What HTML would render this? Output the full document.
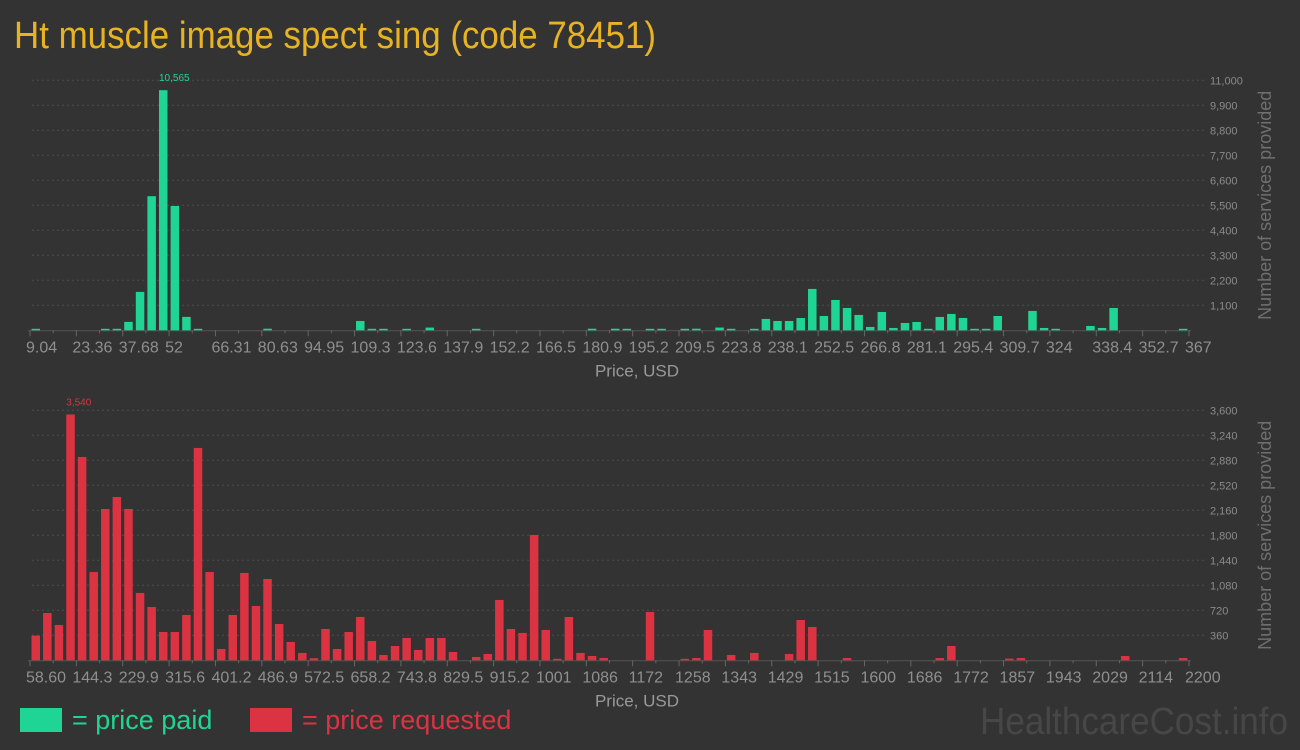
<!DOCTYPE html>
<html><head><meta charset="utf-8"><style>
html,body{margin:0;padding:0;background:#333333;}
svg{display:block;font-family:"Liberation Sans Narrow","Liberation Sans",sans-serif;}
</style></head><body>
<svg id="chart" width="1300" height="750" viewBox="0 0 1300 750" xmlns="http://www.w3.org/2000/svg">
<rect width="1300" height="750" fill="#333333"/>
<text x="14" y="48" font-size="38" fill="#e8b323" textLength="642" lengthAdjust="spacingAndGlyphs">Ht muscle image spect sing (code 78451)</text>
<g id="top"></g>
<g id="bot"></g>
<rect x="20" y="708" width="42" height="24" fill="#1fd595"/>
<text x="72" y="729" font-size="27" fill="#1fd595">= price paid</text>
<rect x="250" y="708" width="42" height="24" fill="#dc3342"/>
<text x="302" y="729" font-size="27" fill="#dc3342">= price requested</text>
<text x="1288" y="734" font-size="38" fill="#474747" text-anchor="end" textLength="308" lengthAdjust="spacingAndGlyphs">HealthcareCost.info</text>
</svg>
<script>
const topCounts = [50,0,0,0,0,0,40,40,370,1690,
5900,10565,5470,590,40,0,0,0,0,0,
70,0,0,0,0,0,0,0,410,40,
40,0,40,0,120,0,0,0,40,0,
0,0,0,0,0,0,0,0,70,0,
70,40,0,40,40,0,40,70,0,120,
40,0,40,500,410,410,540,1820,630,1335,
983,675,147,806,103,323,366,40,587,719,
543,40,60,630,0,0,851,103,40,0,
0,190,103,983,0,0,0,0,0,40];
const botCounts = [356,681,509,3540,2928,1272,2179,2352,2179,970,
768,408,408,653,3058,1272,163,653,1258,782,
1171,523,264,106,30,451,163,408,624,278,
77,206,321,149,321,321,120,0,48,91,
869,451,394,1805,437,15,624,106,62,33,
0,0,0,696,0,0,15,33,437,0,
77,0,106,0,0,91,580,480,0,0,
33,0,0,0,0,0,0,0,33,206,
0,0,0,0,25,33,0,0,0,0,
0,0,0,0,62,0,0,0,0,33];
const topXLabels = ["9.04","23.36","37.68","52","66.31","80.63","94.95","109.3","123.6","137.9","152.2","166.5","180.9","195.2","209.5","223.8","238.1","252.5","266.8","281.1","295.4","309.7","324","338.4","352.7","367"];
const botXLabels = ["58.60","144.3","229.9","315.6","401.2","486.9","572.5","658.2","743.8","829.5","915.2","1001","1086","1172","1258","1343","1429","1515","1600","1686","1772","1857","1943","2029","2114","2200"];
const topYTicks = [1100,2200,3300,4400,5500,6600,7700,8800,9900,11000];
const botYTicks = [360,720,1080,1440,1800,2160,2520,2880,3240,3600];

const NS="http://www.w3.org/2000/svg";
function mk(parent,tag,attrs){const e=document.createElementNS(NS,tag);for(const k in attrs)e.setAttribute(k,attrs[k]);parent.appendChild(e);return e;}

function drawChart(gid,counts,xLabels,yTicks,yMax,base,color,peakLabel){
  const g=document.getElementById(gid);
  const x0=30,x1=1189,top=base-250;
  const y=v=>base-v/yMax*250;
  const pitch=(x1-x0)/counts.length;
  const xs=i=>x0+i*pitch;
  yTicks.forEach(t=>{
    const l=mk(g,'line',{x1:32,x2:1205,y1:y(t),y2:y(t),stroke:'#4c4c4c','stroke-dasharray':'2,3','stroke-width':1});
    
    
    const tx=mk(g,'text',{x:1210,y:y(t)+4,'font-size':11,fill:'#8a8a8a'});
    tx.textContent=t.toLocaleString('en-US');
    
    
  });
  const ax=mk(g,'line',{x1:x0-2,x2:x1+2,y1:base+0.5,y2:base+0.5,stroke:'#555','stroke-width':1});
  
  
  const nInt=xLabels.length-1, step=(x1-x0)/nInt;
  for(let k=0;k<=nInt*2;k++){
    const xx=x0+k*step/2, major=k%2===0;
    const tk=mk(g,'line',{x1:xx,x2:xx,y1:base,y2:base+(major?6:3),stroke:'#666','stroke-width':1});
    
    
  }
  xLabels.forEach((lab,i)=>{
    const t=mk(g,'text',{x:x0+i*step-4,y:base+22,'font-size':16,fill:'#8f8f8f'});
    t.textContent=lab;
    
    
  });
  let pk=0;
  counts.forEach((v,i)=>{
    if(v>counts[pk])pk=i;
    if(v<=0)return;
    const h=Math.max(1.5,base-y(v));
    const r=mk(g,'rect',{x:xs(i)+1.5,y:base-h,width:8.5,height:h,fill:color});
    
    
  });
  const pl=mk(g,'text',{x:xs(pk)+1.5,y:y(counts[pk])-9,'font-size':10,fill:color});
  pl.textContent=counts[pk].toLocaleString('en-US');
  
  
  const xt=mk(g,'text',{x:637,y:base+46,'font-size':17,fill:'#999','text-anchor':'middle'});
  xt.textContent='Price, USD';
  
  
  const cy=top+125;
  const yt=mk(g,'text',{x:1271,y:cy,'font-size':18,fill:'#6f6f6f','text-anchor':'middle',transform:'rotate(-90 1271 '+cy+')',style:'font-family:"Liberation Sans",sans-serif'});
  yt.textContent='Number of services provided';
  
  
}
drawChart('top',topCounts,topXLabels,topYTicks,11000,330.3,'#1fd595');
drawChart('bot',botCounts,botXLabels,botYTicks,3600,660.3,'#dc3342');
</script>
</body></html>
